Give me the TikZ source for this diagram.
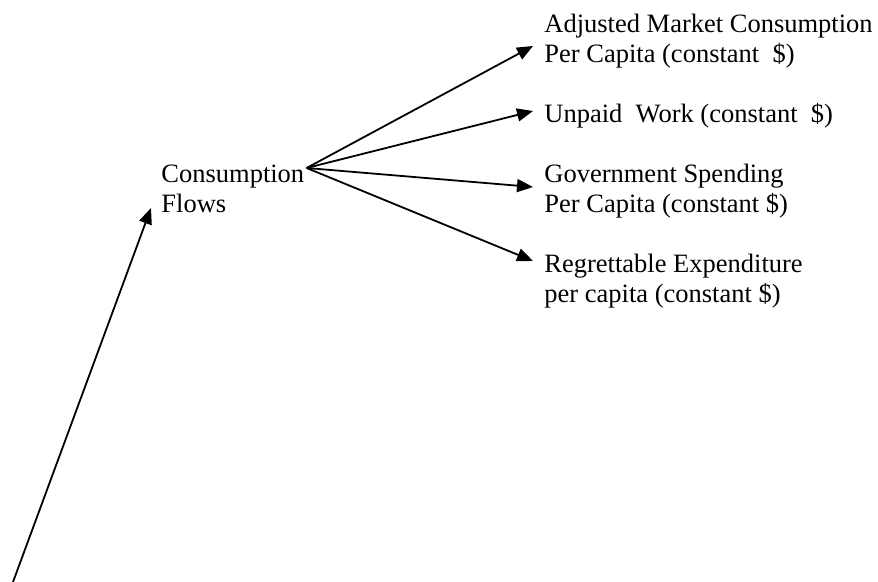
\documentclass[tikz,border=0pt]{standalone}
\usepackage{fontspec}
\setmainfont{Liberation Serif}
\usetikzlibrary{arrows.meta}

\begin{document}
\begin{tikzpicture}[x=0.5pt, y=-0.5pt,
    flow/.style={-{Triangle[length=8pt, width=6.5pt]}, line width=0.9pt}]
  \useasboundingbox (0,0) rectangle (878,582);

  \begin{scope}[every node/.style={inner sep=0, align=left, anchor=north west,
      font=\fontsize{13.25pt}{15pt}\selectfont}]
    \node (flows) at (161,161) {\strut Consumption\\Flows};
    \node (market) at (544,11) {\strut Adjusted Market Consumption\\Per Capita (constant\ \ \$)};
    \node (unpaid) at (544,101) {\strut Unpaid\ \ Work (constant\ \ \$)};
    \node (govt) at (544,161) {\strut Government Spending\\Per Capita (constant \$)};
    \node (regret) at (544,251) {\strut Regrettable Expenditure\\per capita (constant \$)};
  \end{scope}

  \coordinate (hub) at ([shift={(2,7)}]flows.north east);
  \coordinate (origin) at (13,582);

  \draw [flow] (origin) -- ([shift={(-10,47)}]flows.north west);
  \draw [flow] (hub) -- ([shift={(-11,35)}]market.north west);
  \draw [flow] (hub) -- ([shift={(-11,10)}]unpaid.north west);
  \draw [flow] (hub) -- ([shift={(-11,26)}]govt.north west);
  \draw [flow] (hub) -- ([shift={(-11,10)}]regret.north west);
\end{tikzpicture}
\end{document}
